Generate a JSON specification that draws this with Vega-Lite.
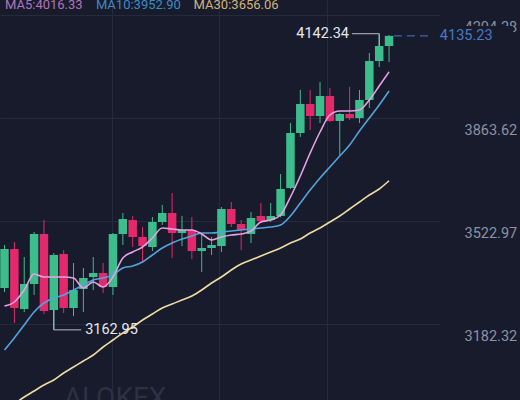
{
  "$schema": "https://vega.github.io/schema/vega-lite/v6.json",
  "width": 440,
  "height": 400,
  "autosize": {"type": "none"},
  "padding": {"left": 0, "top": 0, "right": 80, "bottom": 0},
  "background": "#171b2b",
  "config": {
    "view": {"stroke": null},
    "font": "Roboto",
    "axisX": {"grid": true, "gridColor": "#262b3c", "gridWidth": 1, "labels": false, "ticks": false, "domain": false, "title": null},
    "axisY": {"grid": true, "gridColor": "#262b3c", "gridWidth": 1, "ticks": false, "tickSize": 0, "domain": false, "title": null, "labelColor": "#8d92a4", "labelFontSize": 14.5, "labelFont": "Roboto", "labelPadding": 24, "labelAlign": "left", "labelBaseline": "middle", "labelOffset": 12, "labelFlush": false, "labelOverlap": false, "labelBound": false}
  },
  "data": {"values": [
    {"i": 0, "o": 3301.39, "c": 3430.37, "h": 3443.60, "l": 3288.16, "ma5": 3241.86, "ma10": 3096.33, "ma30": null},
    {"i": 1, "o": 3430.37, "c": 3235.24, "h": 3453.52, "l": 3185.63, "ma5": 3255.09, "ma10": 3136.02, "ma30": 2917.74},
    {"i": 2, "o": 3231.93, "c": 3314.62, "h": 3403.91, "l": 3222.01, "ma5": 3294.77, "ma10": 3179.02, "ma30": 2940.89},
    {"i": 3, "o": 3314.62, "c": 3479.98, "h": 3486.60, "l": 3278.24, "ma5": 3347.69, "ma10": 3222.01, "ma30": 2960.74},
    {"i": 4, "o": 3479.98, "c": 3225.32, "h": 3526.28, "l": 3215.40, "ma5": 3337.77, "ma10": 3251.78, "ma30": 2980.58},
    {"i": 5, "o": 3228.63, "c": 3410.53, "h": 3417.14, "l": 3162.95, "ma5": 3337.77, "ma10": 3268.31, "ma30": 2997.12},
    {"i": 6, "o": 3413.84, "c": 3235.24, "h": 3427.06, "l": 3218.71, "ma5": 3337.77, "ma10": 3278.24, "ma30": 3020.27},
    {"i": 7, "o": 3235.24, "c": 3294.77, "h": 3384.07, "l": 3208.78, "ma5": 3334.46, "ma10": 3294.77, "ma30": 3040.11},
    {"i": 8, "o": 3298.08, "c": 3334.46, "h": 3367.53, "l": 3222.01, "ma5": 3301.39, "ma10": 3311.31, "ma30": 3059.95},
    {"i": 9, "o": 3337.77, "c": 3351.00, "h": 3403.91, "l": 3294.77, "ma5": 3321.23, "ma10": 3327.85, "ma30": 3079.80},
    {"i": 10, "o": 3351.00, "c": 3304.69, "h": 3384.07, "l": 3284.85, "ma5": 3304.69, "ma10": 3334.46, "ma30": 3106.26},
    {"i": 11, "o": 3304.69, "c": 3479.98, "h": 3483.29, "l": 3278.24, "ma5": 3337.77, "ma10": 3344.38, "ma30": 3129.41},
    {"i": 12, "o": 3479.98, "c": 3529.59, "h": 3549.44, "l": 3443.60, "ma5": 3400.61, "ma10": 3367.53, "ma30": 3152.56},
    {"i": 13, "o": 3526.28, "c": 3470.06, "h": 3539.51, "l": 3436.99, "ma5": 3420.45, "ma10": 3374.15, "ma30": 3172.40},
    {"i": 14, "o": 3470.06, "c": 3440.29, "h": 3503.13, "l": 3384.07, "ma5": 3436.99, "ma10": 3387.38, "ma30": 3195.55},
    {"i": 15, "o": 3436.99, "c": 3519.67, "h": 3536.21, "l": 3423.76, "ma5": 3466.75, "ma10": 3410.53, "ma30": 3215.40},
    {"i": 16, "o": 3519.67, "c": 3549.44, "h": 3575.89, "l": 3509.75, "ma5": 3499.83, "ma10": 3433.68, "ma30": 3235.24},
    {"i": 17, "o": 3549.44, "c": 3483.29, "h": 3615.58, "l": 3400.61, "ma5": 3496.52, "ma10": 3450.22, "ma30": 3248.47},
    {"i": 18, "o": 3483.29, "c": 3493.21, "h": 3539.51, "l": 3440.29, "ma5": 3493.21, "ma10": 3463.45, "ma30": 3261.70},
    {"i": 19, "o": 3493.21, "c": 3423.76, "h": 3536.21, "l": 3397.30, "ma5": 3493.21, "ma10": 3473.37, "ma30": 3274.93},
    {"i": 20, "o": 3423.76, "c": 3433.68, "h": 3483.29, "l": 3354.30, "ma5": 3479.98, "ma10": 3483.29, "ma30": 3294.77},
    {"i": 21, "o": 3433.68, "c": 3443.60, "h": 3470.06, "l": 3410.53, "ma5": 3460.14, "ma10": 3483.29, "ma30": 3317.92},
    {"i": 22, "o": 3440.29, "c": 3562.66, "h": 3569.28, "l": 3420.45, "ma5": 3470.06, "ma10": 3486.60, "ma30": 3337.77},
    {"i": 23, "o": 3562.66, "c": 3513.05, "h": 3585.82, "l": 3503.13, "ma5": 3476.67, "ma10": 3489.90, "ma30": 3360.92},
    {"i": 24, "o": 3513.05, "c": 3493.21, "h": 3526.28, "l": 3427.06, "ma5": 3479.98, "ma10": 3493.21, "ma30": 3380.76},
    {"i": 25, "o": 3479.98, "c": 3532.90, "h": 3552.74, "l": 3450.22, "ma5": 3489.90, "ma10": 3496.52, "ma30": 3393.99},
    {"i": 26, "o": 3539.51, "c": 3522.98, "h": 3582.51, "l": 3516.36, "ma5": 3519.67, "ma10": 3499.83, "ma30": 3407.22},
    {"i": 27, "o": 3526.28, "c": 3539.51, "h": 3582.51, "l": 3519.67, "ma5": 3526.28, "ma10": 3503.13, "ma30": 3420.45},
    {"i": 28, "o": 3539.51, "c": 3628.81, "h": 3678.42, "l": 3535.00, "ma5": 3542.82, "ma10": 3509.75, "ma30": 3433.68},
    {"i": 29, "o": 3632.12, "c": 3814.02, "h": 3847.09, "l": 3628.81, "ma5": 3602.35, "ma10": 3539.51, "ma30": 3450.22},
    {"i": 30, "o": 3814.02, "c": 3909.93, "h": 3956.23, "l": 3800.79, "ma5": 3671.81, "ma10": 3582.51, "ma30": 3463.45},
    {"i": 31, "o": 3909.93, "c": 3870.24, "h": 3956.23, "l": 3823.94, "ma5": 3747.87, "ma10": 3625.50, "ma30": 3483.29},
    {"i": 32, "o": 3870.24, "c": 3936.39, "h": 3982.69, "l": 3847.09, "ma5": 3817.33, "ma10": 3665.19, "ma30": 3499.83},
    {"i": 33, "o": 3936.39, "c": 3853.71, "h": 3962.85, "l": 3850.00, "ma5": 3873.55, "ma10": 3701.57, "ma30": 3519.67},
    {"i": 34, "o": 3853.71, "c": 3876.86, "h": 3880.00, "l": 3741.26, "ma5": 3886.78, "ma10": 3737.95, "ma30": 3539.51},
    {"i": 35, "o": 3876.86, "c": 3863.63, "h": 3966.15, "l": 3857.01, "ma5": 3886.78, "ma10": 3774.33, "ma30": 3562.66},
    {"i": 36, "o": 3863.63, "c": 3923.16, "h": 3956.23, "l": 3847.09, "ma5": 3890.09, "ma10": 3820.63, "ma30": 3585.82},
    {"i": 37, "o": 3923.16, "c": 4052.14, "h": 4078.60, "l": 3896.70, "ma5": 3923.16, "ma10": 3863.63, "ma30": 3608.97},
    {"i": 38, "o": 4052.14, "c": 4101.75, "h": 4142.34, "l": 4032.30, "ma5": 3969.46, "ma10": 3906.62, "ma30": 3628.81},
    {"i": 39, "o": 4101.75, "c": 4135.23, "h": 4138.13, "l": 4048.84, "ma5": 4016.33, "ma10": 3952.90, "ma30": 3656.06}
  ]},
  "layer": [
    {
      "mark": {"type": "rule", "strokeWidth": 1, "clip": true},
      "encoding": {
        "x": {"field": "i", "type": "quantitative", "scale": {"domain": [0.05, 43.66], "nice": false, "zero": false}, "axis": {"values": [10.95, 21.75, 32.66], "title": null}},
        "y": {"field": "l", "type": "quantitative", "scale": {"domain": [2930.97, 4253.89], "nice": false, "zero": false}, "axis": {"values": [3182.32, 3522.97, 3863.62, 4204.28], "format": ".2f", "orient": "right", "title": null}},
        "y2": {"field": "h"},
        "color": {"condition": {"test": "datum.c >= datum.o", "value": "#3ebd8c"}, "value": "#e3296c"}
      }
    },
    {
      "mark": {"type": "bar", "size": 8.5, "clip": true},
      "encoding": {
        "x": {"field": "i", "type": "quantitative", "scale": {"domain": [0.05, 43.66], "nice": false, "zero": false}, "title": null},
        "y": {"field": "o", "type": "quantitative", "scale": {"domain": [2930.97, 4253.89], "nice": false, "zero": false}, "title": null},
        "y2": {"field": "c"},
        "color": {"condition": {"test": "datum.c >= datum.o", "value": "#3ebd8c"}, "value": "#e3296c"}
      }
    },
    {
      "mark": {"type": "line", "color": "#efdba3", "strokeWidth": 1.6, "clip": true, "interpolate": "monotone"},
      "encoding": {
        "x": {"field": "i", "type": "quantitative", "scale": {"domain": [0.05, 43.66], "nice": false, "zero": false}, "title": null},
        "y": {"field": "ma30", "type": "quantitative", "scale": {"domain": [2930.97, 4253.89], "nice": false, "zero": false}, "title": null}
      }
    },
    {
      "mark": {"type": "line", "color": "#54a4dc", "strokeWidth": 1.6, "clip": true, "interpolate": "monotone"},
      "encoding": {
        "x": {"field": "i", "type": "quantitative", "scale": {"domain": [0.05, 43.66], "nice": false, "zero": false}, "title": null},
        "y": {"field": "ma10", "type": "quantitative", "scale": {"domain": [2930.97, 4253.89], "nice": false, "zero": false}, "title": null}
      }
    },
    {
      "mark": {"type": "line", "color": "#e5a3e3", "strokeWidth": 1.6, "clip": true, "interpolate": "monotone"},
      "encoding": {
        "x": {"field": "i", "type": "quantitative", "scale": {"domain": [0.05, 43.66], "nice": false, "zero": false}, "title": null},
        "y": {"field": "ma5", "type": "quantitative", "scale": {"domain": [2930.97, 4253.89], "nice": false, "zero": false}, "title": null}
      }
    },
    {
      "data": {"values": [
        {"x": 35.23, "x2": 38, "y": 4142.34, "y2": 4142.34},
        {"x": 38, "x2": 38, "y": 4142.34, "y2": 4101.75},
        {"x": 5, "x2": 7.78, "y": 3162.95, "y2": 3162.95},
        {"x": 5, "x2": 5, "y": 3228.63, "y2": 3162.95}
      ]},
      "mark": {"type": "rule", "color": "#b9bcc8", "strokeWidth": 1},
      "encoding": {
        "x": {"field": "x", "type": "quantitative", "scale": {"domain": [0.05, 43.66], "nice": false, "zero": false}, "title": null},
        "x2": {"field": "x2"},
        "y": {"field": "y", "type": "quantitative", "scale": {"domain": [2930.97, 4253.89], "nice": false, "zero": false}, "title": null},
        "y2": {"field": "y2"}
      }
    },
    {
      "data": {"values": [{"x": 34.94, "y": 4142.34, "label": "4142.34"}]},
      "mark": {"type": "text", "align": "right", "baseline": "middle", "color": "#e6e8ee", "fontSize": 14.5, "font": "Roboto"},
      "encoding": {
        "x": {"field": "x", "type": "quantitative", "scale": {"domain": [0.05, 43.66], "nice": false, "zero": false}, "title": null},
        "y": {"field": "y", "type": "quantitative", "scale": {"domain": [2930.97, 4253.89], "nice": false, "zero": false}, "title": null},
        "text": {"field": "label"}
      }
    },
    {
      "data": {"values": [{"x": 8.18, "y": 3162.95, "label": "3162.95"}]},
      "mark": {"type": "text", "align": "left", "baseline": "middle", "color": "#e6e8ee", "fontSize": 14.5, "font": "Roboto"},
      "encoding": {
        "x": {"field": "x", "type": "quantitative", "scale": {"domain": [0.05, 43.66], "nice": false, "zero": false}, "title": null},
        "y": {"field": "y", "type": "quantitative", "scale": {"domain": [2930.97, 4253.89], "nice": false, "zero": false}, "title": null},
        "text": {"field": "label"}
      }
    },
    {
      "data": {"values": [{"x": 39.5, "x2": 43.36, "y": 4135.23}]},
      "mark": {"type": "rule", "color": "#4b78c6", "strokeWidth": 1, "strokeDash": [8, 5]},
      "encoding": {
        "x": {"field": "x", "type": "quantitative", "scale": {"domain": [0.05, 43.66], "nice": false, "zero": false}, "title": null},
        "x2": {"field": "x2"},
        "y": {"field": "y", "type": "quantitative", "scale": {"domain": [2930.97, 4253.89], "nice": false, "zero": false}, "title": null}
      }
    },
    {
      "data": {"values": [{"x": 43.7, "x2": 51.6, "y": 4167.9, "y2": 4095.0}]},
      "mark": {"type": "rect", "color": "#171b2b"},
      "encoding": {
        "x": {"field": "x", "type": "quantitative", "scale": {"domain": [0.05, 43.66], "nice": false, "zero": false}, "title": null},
        "x2": {"field": "x2"},
        "y": {"field": "y", "type": "quantitative", "scale": {"domain": [2930.97, 4253.89], "nice": false, "zero": false}, "title": null},
        "y2": {"field": "y2"}
      }
    },
    {
      "data": {"values": [{"x": 44.15, "y": 4135.23, "label": "4135.23"}]},
      "mark": {"type": "text", "align": "left", "baseline": "middle", "color": "#4b78c6", "fontSize": 14.5, "font": "Roboto"},
      "encoding": {
        "x": {"field": "x", "type": "quantitative", "scale": {"domain": [0.05, 43.66], "nice": false, "zero": false}, "title": null},
        "y": {"field": "y", "type": "quantitative", "scale": {"domain": [2930.97, 4253.89], "nice": false, "zero": false}, "title": null},
        "text": {"field": "label"}
      }
    },
    {
      "data": {"values": [
        {"name": "MA5", "label": "MA5:4016.33", "x": 0.05, "y": 4223.13},
        {"name": "MA10", "label": "MA10:3952.90", "x": 9.27, "y": 4223.13},
        {"name": "MA30", "label": "MA30:3656.06", "x": 19.18, "y": 4223.13}
      ]},
      "mark": {"type": "text", "align": "left", "baseline": "alphabetic", "fontSize": 13, "font": "Roboto"},
      "encoding": {
        "x": {"field": "x", "type": "quantitative", "scale": {"domain": [0.05, 43.66], "nice": false, "zero": false}, "title": null},
        "y": {"field": "y", "type": "quantitative", "scale": {"domain": [2930.97, 4253.89], "nice": false, "zero": false}, "title": null},
        "text": {"field": "label"},
        "color": {"field": "name", "type": "nominal", "scale": {"domain": ["MA5", "MA10", "MA30"], "range": ["#b075bd", "#3e8ac4", "#d4b27a"]}, "legend": null}
      }
    },
    {
      "data": {"values": [{"x": 6.0, "y": 2907.82, "label": "ALOKEX"}]},
      "mark": {"type": "text", "align": "left", "baseline": "alphabetic", "color": "#2c3143", "fontSize": 28, "font": "Roboto"},
      "encoding": {
        "x": {"field": "x", "type": "quantitative", "scale": {"domain": [0.05, 43.66], "nice": false, "zero": false}, "title": null},
        "y": {"field": "y", "type": "quantitative", "scale": {"domain": [2930.97, 4253.89], "nice": false, "zero": false}, "title": null},
        "text": {"field": "label"}
      }
    }
  ]
}
